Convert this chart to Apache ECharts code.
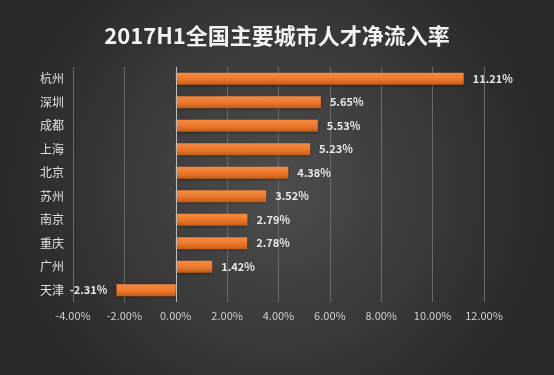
<!DOCTYPE html>
<html><head><meta charset="utf-8">
<script src="https://cdn.jsdelivr.net/npm/echarts@6/dist/echarts.min.js"></script>
<style>html,body{margin:0;padding:0;background:#333;}#c{width:554px;height:375px;}</style>
</head><body><div id="c"></div>
<script>
const cities = ['杭州','深圳','成都','上海','北京','苏州','南京','重庆','广州','天津'];
const rates = [11.21, 5.65, 5.53, 5.23, 4.38, 3.52, 2.79, 2.78, 1.42, -2.31];
const titleText = '2017H1全国主要城市人才净流入率';

const chart = echarts.init(document.getElementById('c'));
const barColor = {type:'linear',x:0,y:0,x2:0,y2:1,colorStops:[{offset:0,color:'#f48b42'},{offset:0.5,color:'#ee7a2c'},{offset:1,color:'#c45c18'}]};
chart.setOption({
  backgroundColor: {type:'radial',x:0.5,y:0.5,r:0.75,colorStops:[{offset:0,color:'#4d4d4d'},{offset:1,color:'#282828'}]},
  title: {text:titleText,left:'center',top:20,textStyle:{color:'#f2f2f2',fontSize:22,fontWeight:'bold',fontFamily:'Noto Sans CJK SC'}},
  grid: {left:73,right:70,top:67,bottom:73},
  xAxis: {type:'value',min:-4,max:12,interval:2,
    axisLine:{show:false},axisTick:{show:false},
    splitLine:{lineStyle:{color:'#6a6a6a',width:1}},
    axisLabel:{color:'#d0d0d0',fontSize:11,margin:8,fontFamily:'Noto Sans CJK SC',formatter:v=>v.toFixed(2)+'%'}},
  yAxis: {type:'category',data:cities,inverse:true,
    axisLine:{show:false,onZero:false},axisTick:{show:false},
    axisLabel:{color:'#e0e0e0',fontSize:12,margin:9,fontFamily:'Noto Sans CJK SC'}},
  series: [{type:'bar',barWidth:12,
    data: rates.map(v=>({value:v,label:{position:v<0?'left':'right'}})),
    itemStyle:{color:barColor,shadowColor:'rgba(0,0,0,0.5)',shadowBlur:3,shadowOffsetY:1},
    label:{show:true,color:'#e8e8e8',fontSize:11,fontWeight:'bold',distance:9,fontFamily:'Noto Sans CJK SC',formatter:p=>p.value.toFixed(2)+'%'},
    markLine:{silent:true,symbol:'none',label:{show:false},lineStyle:{color:'#bdbdbd',type:'solid',width:1},data:[{xAxis:0}]}
  }]
});
</script></body></html>
